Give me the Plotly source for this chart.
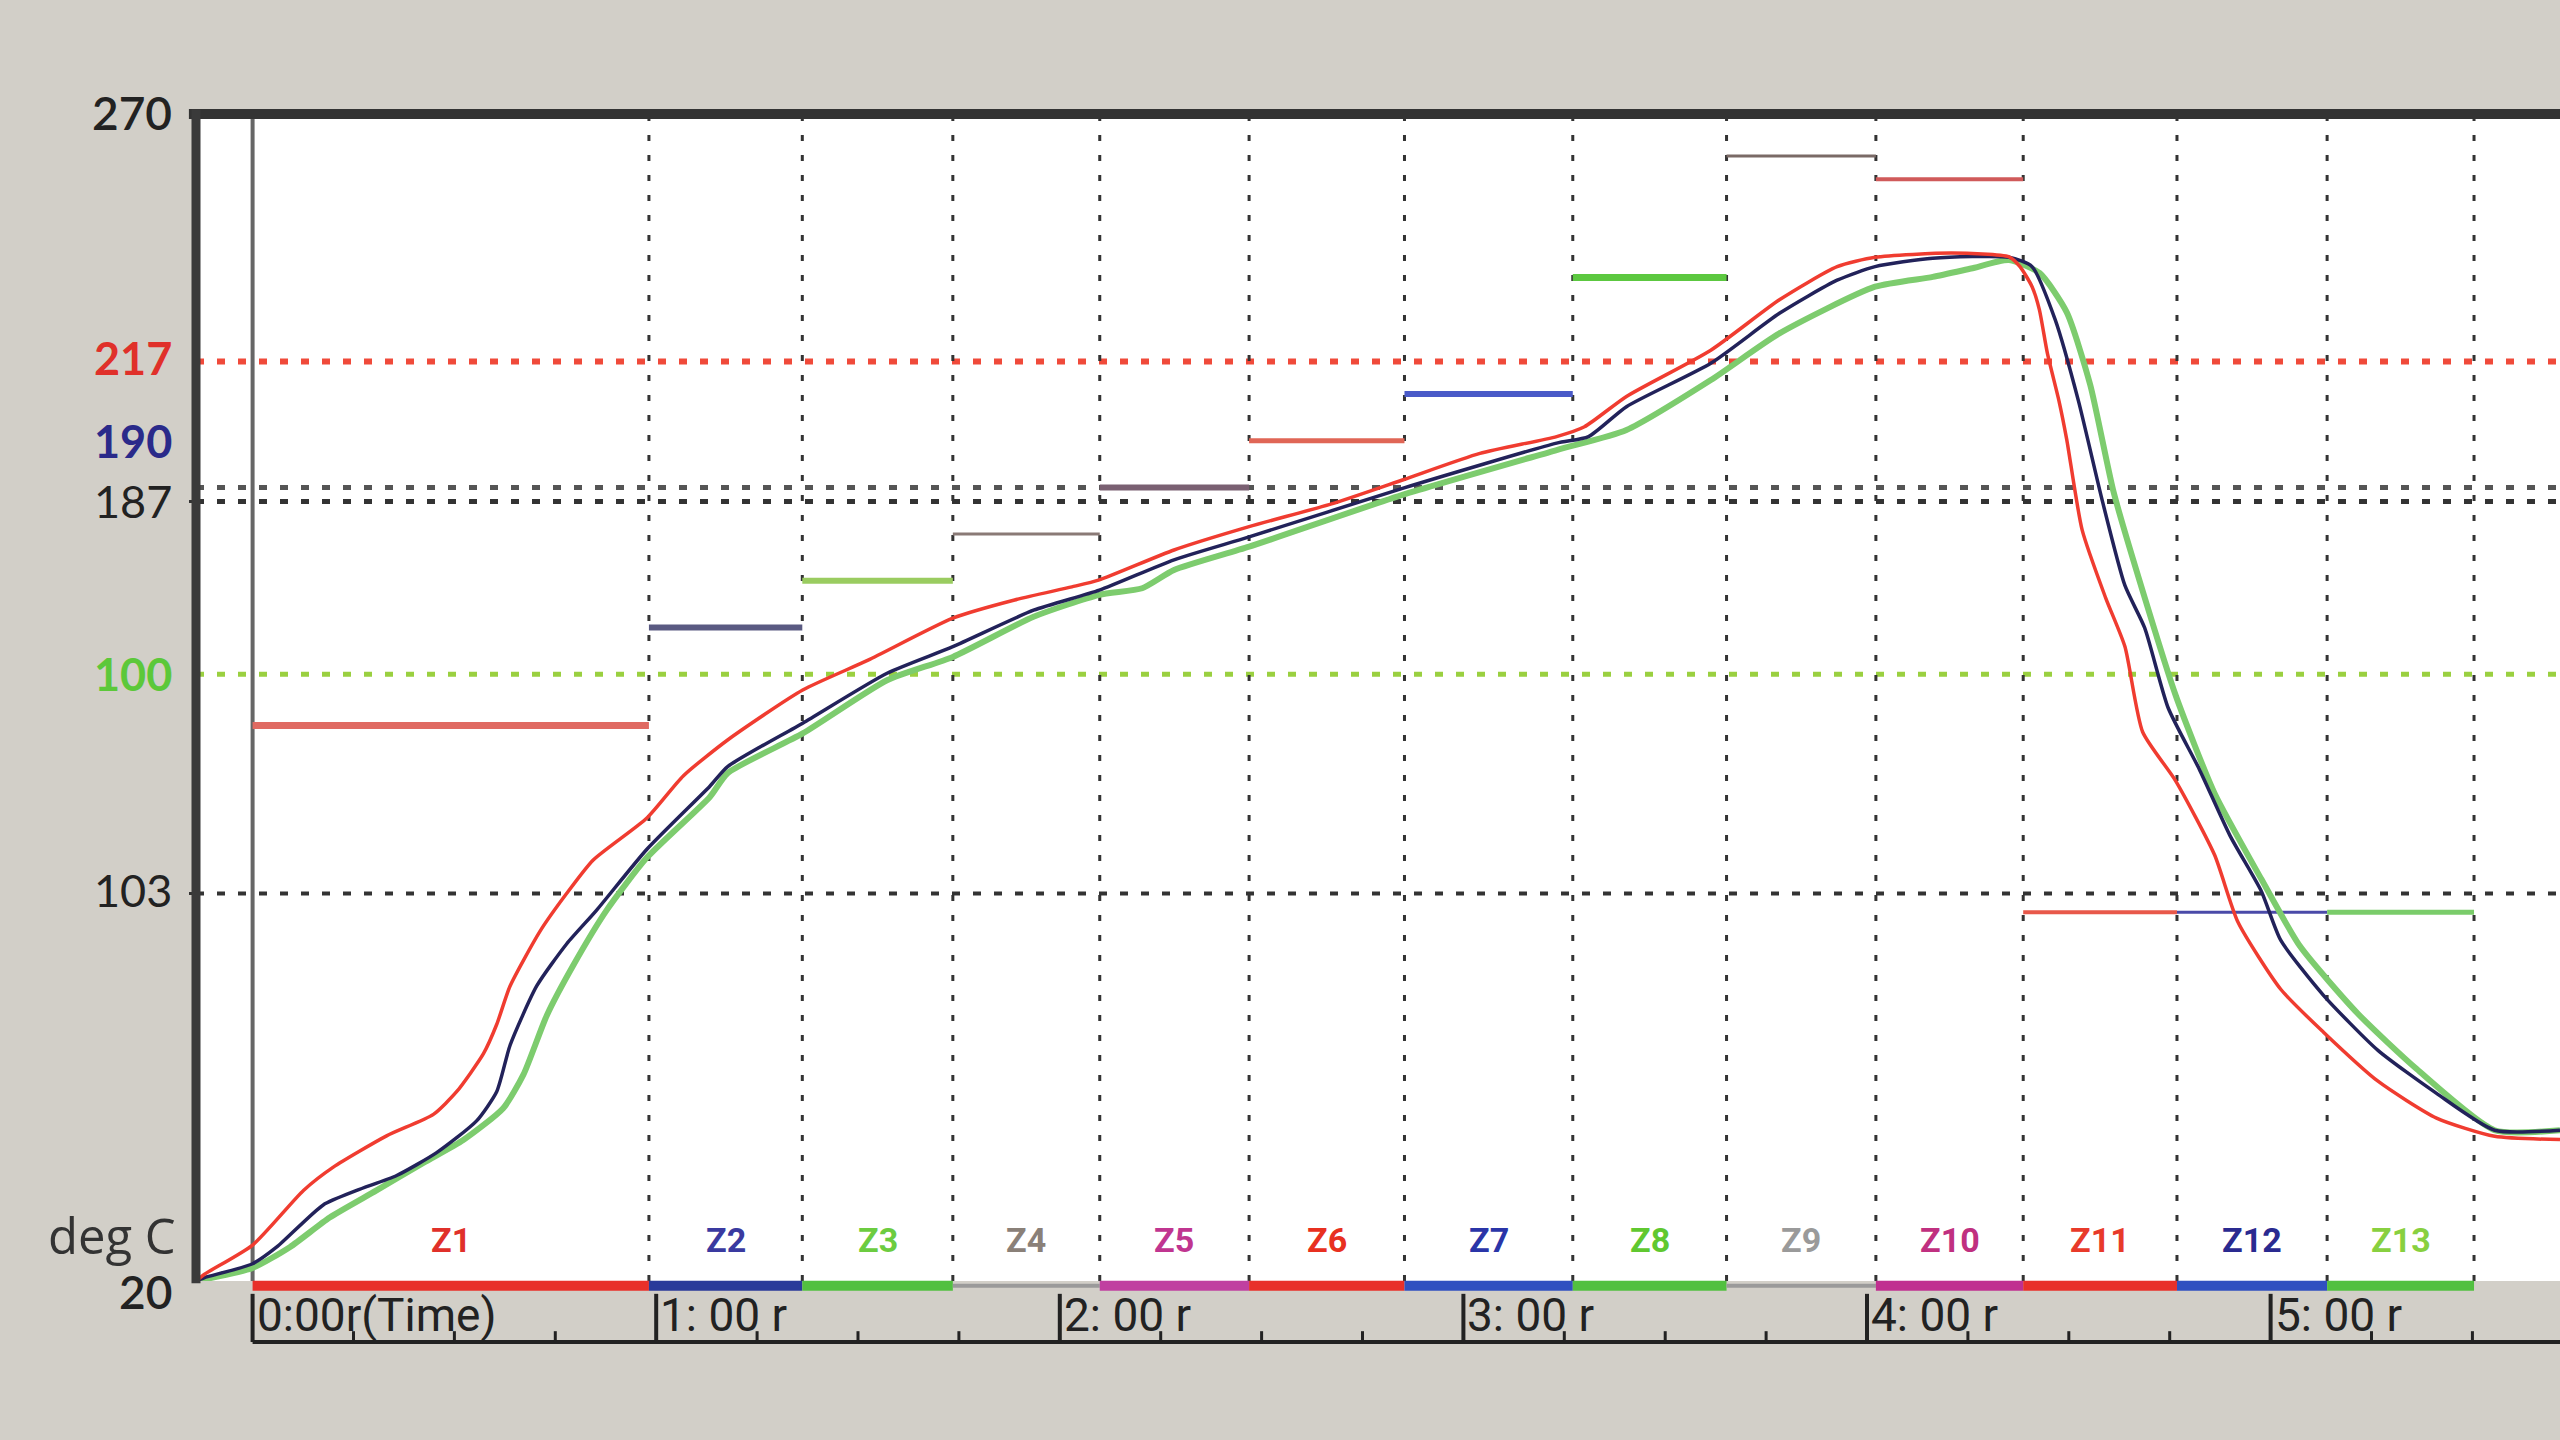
import plotly.graph_objects as go

# ---------------- data (time in "hours" as labelled, temperature in deg C) ----------------
red_t = [-0.14, -0.12, 0.0, 0.126, 0.2, 0.332, 0.448, 0.506, 0.572, 0.605, 0.638, 0.712, 0.778,
         0.844, 0.977, 1.067, 1.177, 1.363, 1.525, 1.735, 1.888, 2.03, 2.098, 2.283, 2.469, 2.678,
         2.849, 3.041, 3.231, 3.3, 3.404, 3.613, 3.783, 3.926, 4.02, 4.21, 4.352, 4.379, 4.409,
         4.427, 4.447, 4.476, 4.495, 4.533, 4.591, 4.639, 4.683, 4.765, 4.861, 4.919, 5.025, 5.131,
         5.266, 5.411, 5.555, 5.717]
red_T = [20, 21.4, 27.7, 39.4, 44.4, 51.1, 55.7, 60.6, 68.7, 75, 83.2, 94.9, 103,
         110.2, 119.2, 128.2, 135.9, 146.6, 153, 162, 165.9, 168.7, 170.2, 176.6, 181.6, 186.6,
         191.6, 197.3, 200.9, 203, 209.5, 219.4, 230.2, 237.3, 239.3, 240.2, 239.4, 237.3, 233,
         228.1, 218.7, 208.4, 200.2, 180.9, 166.4, 155.9, 137.6, 127.1, 111.3, 96.9, 82.5, 73.3,
         62.8, 54.9, 51, 50.3]

navy_t = [-0.14, -0.12, 0.0, 0.06, 0.175, 0.258, 0.357, 0.456, 0.555, 0.605, 0.638, 0.704, 0.778,
          0.852, 0.977, 1.133, 1.177, 1.363, 1.572, 1.735, 1.935, 2.098, 2.283, 2.469, 2.849, 3.231,
          3.31, 3.404, 3.613, 3.783, 3.926, 4.02, 4.163, 4.352, 4.409, 4.466, 4.524, 4.582, 4.639,
          4.688, 4.746, 4.823, 4.9, 4.977, 5.025, 5.131, 5.266, 5.411, 5.555, 5.717]
navy_T = [20, 20.7, 23.7, 27.3, 36.3, 39.4, 42.6, 47.5, 54.3, 60.6, 70.5, 83.2, 92.2,
          99.4, 112.5, 126, 130.2, 139.5, 150.2, 155.9, 163.7, 168, 174.5, 179.4, 189.8, 199.5,
          200.9, 207.3, 216.6, 227.3, 234.4, 237.3, 239.1, 239.3, 237.3, 226, 208.5, 187.5, 169,
          159.9, 142.8, 129.7, 115.3, 103.5, 93, 81.2, 69.4, 60.2, 52.3, 52.3]

green_t = [-0.14, 0.0, 0.093, 0.191, 0.307, 0.423, 0.522, 0.621, 0.671, 0.729, 0.795, 0.877, 0.977,
           1.133, 1.177, 1.363, 1.572, 1.735, 1.935, 2.098, 2.204, 2.283, 2.469, 2.849, 3.231, 3.404,
           3.613, 3.783, 4.02, 4.163, 4.258, 4.352, 4.428, 4.495, 4.553, 4.611, 4.688, 4.765, 4.861,
           4.977, 5.073, 5.217, 5.362, 5.555, 5.717]
green_T = [20, 22.8, 27.3, 33.6, 39.4, 45.3, 50.2, 57, 64.2, 76.9, 87.7, 99.4, 110.7,
           123.7, 128.8, 137.3, 148.7, 153.7, 162.3, 167, 168.4, 172.3, 177.3, 188.4, 198, 202.3,
           213, 223, 233, 235.1, 236.9, 238.7, 235.9, 227.5, 212, 189, 166.4, 145.4, 124.5,
           106.1, 91.7, 77.2, 65.4, 52.3, 52.3]

zone_names = ["Z1", "Z2", "Z3", "Z4", "Z5", "Z6", "Z7", "Z8", "Z9", "Z10", "Z11", "Z12", "Z13"]
zone_edges = [0.0, 0.982, 1.362, 1.735, 2.099, 2.469, 2.854, 3.271, 3.652, 4.022, 4.387, 4.768, 5.140, 5.504]
zone_setpoints = [139, 160, 170, 180, 190, 200, 210, 235, 261, 256, 99, 99, 99]

ref_values = [217, 190, 187, 150, 103]
ref_labels = ["217", "190", "187", "100", "103"]
end_values = [270, 20]
end_labels = ["270", "20"]

hour_ticks = [0, 1, 2, 3, 4, 5]
hour_labels = ["0:00r(Time)", "1: 00 r", "2: 00 r", "3: 00 r", "4: 00 r", "5: 00 r"]

# ---------------- styles ----------------
X_RANGE = [-0.1402, 5.717]
Y_RANGE = [20, 270]
BG = "#d2cfc8"

setpoint_colors = ["#e06a62", "#5a5a82", "#9acc60", "#8a7a76", "#7a6072", "#e06656", "#4a5ac8",
                   "#5cc840", "#7a6a66", "#d05a5a", "#e8584a", "#4a4aa8", "#7acc6a"]
setpoint_widths = [7, 6, 6, 3, 6, 5, 6, 7, 3, 4, 4, 3, 5]
zone_label_colors = ["#e0302a", "#3a3aa0", "#6ccc40", "#8a8078", "#c03590", "#e83020", "#2a35a8",
                     "#60c830", "#9a9a9a", "#c03080", "#e83a2a", "#2a2a90", "#88d040"]
zone_bar_colors = ["#e8302a", "#2a3a9a", "#52c040", "#9a9a9a", "#c040a0", "#e8302a", "#3050c0",
                   "#52c040", "#9a9a9a", "#c03090", "#e8302a", "#3050c0", "#52c040"]
ref_colors = ["#f04a3a", "#555555", "#333333", "#9ad040", "#333333"]
ref_widths = [6, 5, 5, 5, 4]
ref_label_colors = ["#e0302a", "#2a2a8a", "#222222", "#5cc83a", "#222222"]
ref_label_weights = [700, 700, 400, 700, 400]
ref_label_shift = [3, 46, 0, 0, 4]
LABEL_FONT = "Lato, Open Sans, sans-serif"

fig = go.Figure()

# zone setpoints
for i, name in enumerate(zone_names):
    fig.add_trace(go.Scatter(
        x=[zone_edges[i], zone_edges[i + 1]], y=[zone_setpoints[i], zone_setpoints[i]],
        mode="lines", line=dict(color=setpoint_colors[i], width=setpoint_widths[i]),
        hoverinfo="skip", showlegend=False))

# measured profiles
fig.add_trace(go.Scatter(x=green_t, y=green_T, mode="lines", name="TC3",
                         line=dict(color="#7dcc6e", width=6, shape="spline", smoothing=0.6)))
fig.add_trace(go.Scatter(x=navy_t, y=navy_T, mode="lines", name="TC2",
                         line=dict(color="#22225a", width=3.5, shape="spline", smoothing=0.6)))
fig.add_trace(go.Scatter(x=red_t, y=red_T, mode="lines", name="TC1",
                         line=dict(color="#f03c30", width=3.5, shape="spline", smoothing=0.6)))

shapes = []
# horizontal reference lines
for v, c, w in zip(ref_values, ref_colors, ref_widths):
    shapes.append(dict(type="line", xref="paper", yref="y", x0=0, x1=1, y0=v, y1=v,
                       line=dict(color=c, width=w, dash="8px,13px"), layer="below"))
# zone boundary lines
for e in zone_edges[1:]:
    shapes.append(dict(type="line", xref="x", yref="paper", x0=e, x1=e, y0=0, y1=1,
                       line=dict(color="#333333", width=3, dash="6px,14px"), layer="below"))
# time-zero line
shapes.append(dict(type="line", xref="x", yref="paper", x0=0, x1=0, y0=0, y1=1,
                   line=dict(color="#666666", width=4), layer="below"))
# zone colour bar along the bottom
for i in range(len(zone_names)):
    shapes.append(dict(type="line", xref="x", yref="paper", x0=zone_edges[i], x1=zone_edges[i + 1],
                       y0=-0.004, y1=-0.004,
                       line=dict(color=zone_bar_colors[i], width=10 if zone_bar_colors[i] != "#9a9a9a" else 4)))
# frame (top + left)
shapes.append(dict(type="line", xref="paper", yref="paper", x0=-0.003, x1=1, y0=1.0, y1=1.0,
                   line=dict(color="#333333", width=10)))
shapes.append(dict(type="line", xref="paper", yref="paper", x0=0, x1=0, y0=-0.002, y1=1.004,
                   line=dict(color="#3a3a3a", width=9)))
# lower time axis line and ticks
shapes.append(dict(type="line", xref="x", yref="paper", x0=0, x1=X_RANGE[1], y0=-0.0523, y1=-0.0523,
                   line=dict(color="#222222", width=4)))
for h in hour_ticks:
    shapes.append(dict(type="line", xref="x", yref="paper", x0=h, x1=h, y0=-0.0523, y1=-0.011,
                       line=dict(color="#222222", width=4)))
for k in range(1, 23):
    if k % 4:
        q = k * 0.25
        shapes.append(dict(type="line", xref="x", yref="paper", x0=q, x1=q, y0=-0.0523, y1=-0.043,
                           line=dict(color="#222222", width=3)))

annotations = []
for v, lab, c, wt, s in zip(ref_values, ref_labels, ref_label_colors, ref_label_weights, ref_label_shift):
    annotations.append(dict(x=0, xref="paper", y=v, yref="y", text=lab, showarrow=False,
                            xanchor="right", yanchor="middle", xshift=-22, yshift=s,
                            font=dict(family=LABEL_FONT, size=45, color=c, weight=wt)))
annotations.append(dict(x=0, xref="paper", y=end_values[0], yref="y", text=end_labels[0], showarrow=False,
                        xanchor="right", yanchor="middle", xshift=-22, yshift=2,
                        font=dict(family=LABEL_FONT, size=46, color="#222222", weight=600)))
annotations.append(dict(x=0, xref="paper", y=end_values[1], yref="y", text=end_labels[1], showarrow=False,
                        xanchor="right", yanchor="middle", xshift=-22, yshift=-10,
                        font=dict(family=LABEL_FONT, size=46, color="#222222", weight=600)))
annotations.append(dict(x=0, xref="paper", y=20, yref="y", text="deg C", showarrow=False,
                        xanchor="right", yanchor="middle", xshift=-18, yshift=46,
                        font=dict(family="Open Sans, sans-serif", size=49, color="#333333")))
for h, lab in zip(hour_ticks, hour_labels):
    annotations.append(dict(x=h, xref="x", y=-0.029, yref="paper", text=lab, showarrow=False,
                            xanchor="left", yanchor="middle", xshift=2,
                            font=dict(family="Roboto, sans-serif", size=46, color="#222222")))
for i, name in enumerate(zone_names):
    annotations.append(dict(x=(zone_edges[i] + zone_edges[i + 1]) / 2, xref="x", y=28.8, yref="y",
                            text=name, showarrow=False, xanchor="center", yanchor="middle",
                            font=dict(family="Liberation Sans Narrow, Roboto, sans-serif", size=34,
                                      color=zone_label_colors[i], weight=700)))

fig.update_layout(
    width=2560, height=1440,
    margin=dict(l=196, r=0, t=114, b=159),
    paper_bgcolor=BG, plot_bgcolor="#ffffff",
    showlegend=False,
    xaxis=dict(range=X_RANGE, showgrid=False, zeroline=False, showticklabels=False, ticks="",
               showline=False, fixedrange=True),
    yaxis=dict(range=Y_RANGE, showgrid=False, zeroline=False, showticklabels=False,
               tickvals=[187, 103], ticks="outside", ticklen=6, tickwidth=3, tickcolor="#333333",
               showline=False, fixedrange=True),
    shapes=shapes, annotations=annotations,
)

fig.write_html("out.html", config={"displayModeBar": False},
               post_script="document.body.style.margin='0';document.body.style.padding='0';"
                           "document.body.style.background='" + BG + "';")
